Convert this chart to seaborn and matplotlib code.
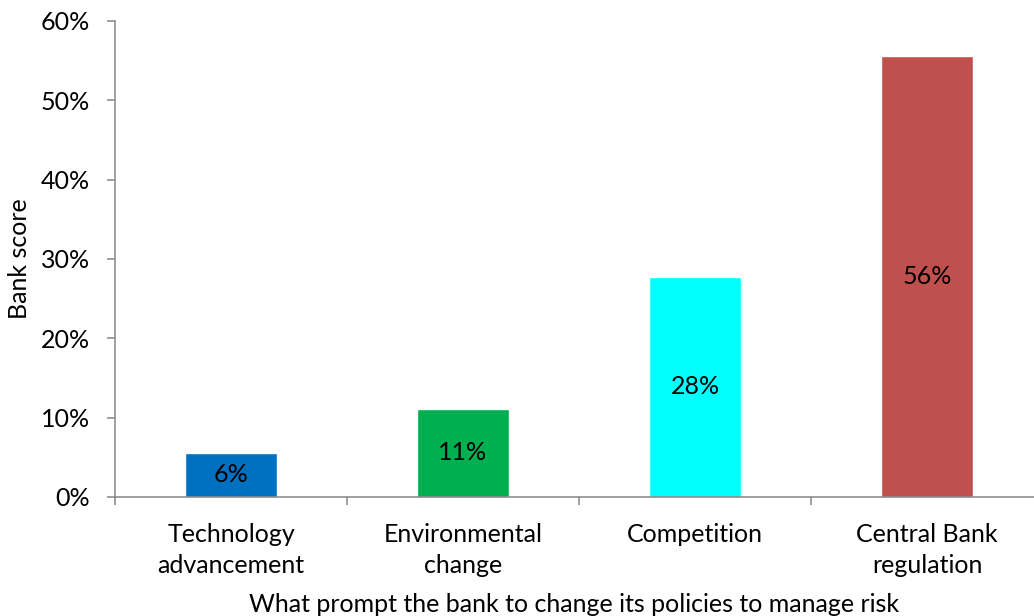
import matplotlib
matplotlib.use("Agg")
import matplotlib.pyplot as plt
from matplotlib.ticker import PercentFormatter, FixedLocator
import seaborn as sns
import pandas as pd

# Data
categories = ["Technology\nadvancement", "Environmental\nchange", "Competition", "Central Bank\nregulation"]
scores = [0.0556, 0.1111, 0.2778, 0.5556]
value_labels = ["6%", "11%", "28%", "56%"]
bar_colors = ["#0070C0", "#00B050", "#00FFFF", "#C0504D"]

sns.set_theme(style="white")
plt.rcParams["font.family"] = ["Lato", "DejaVu Sans"]

FS = 18
AXIS_GRAY = "#868686"

fig = plt.figure(figsize=(10.34, 6.16), dpi=100)
ax = fig.add_axes([115 / 1034, 119 / 616, 928 / 1034, 476 / 616])

df = pd.DataFrame({"category": categories, "score": scores})
sns.barplot(data=df, x="category", y="score", hue="category",
            palette=bar_colors, width=0.4, legend=False, ax=ax,
            saturation=1.0)

ax.set_xlim(-0.5, 3.5)
ax.set_ylim(0, 0.6)
ax.set_yticks([0, 0.1, 0.2, 0.3, 0.4, 0.5, 0.6])
ax.yaxis.set_major_formatter(PercentFormatter(xmax=1, decimals=0))

# Category labels at bar centres, tick marks at category boundaries
ax.set_xticks(range(len(categories)))
ax.set_xticklabels(categories, fontsize=FS, color="black", linespacing=1.4)
ax.tick_params(axis="x", which="major", length=0, pad=19)
ax.xaxis.set_minor_locator(FixedLocator([-0.5, 0.5, 1.5, 2.5, 3.5]))
ax.tick_params(axis="x", which="minor", bottom=True, length=6, width=1.1, color=AXIS_GRAY)
ax.tick_params(axis="y", left=True, length=6, width=1.1, color=AXIS_GRAY,
               labelsize=FS, labelcolor="black", pad=12)

for side in ["top", "right"]:
    ax.spines[side].set_visible(False)
for side in ["left", "bottom"]:
    ax.spines[side].set_color(AXIS_GRAY)
    ax.spines[side].set_linewidth(1.1)

# Value labels centred inside each bar
for i, (v, lab) in enumerate(zip(scores, value_labels)):
    ax.text(i, v / 2, lab, ha="center", va="center", fontsize=FS, color="black")

ax.set_ylabel("Bank score", fontsize=FS, color="black")
ax.yaxis.set_label_coords(-84 / 928, 0.5)
ax.set_xlabel("What prompt the bank to change its policies to manage risk",
              fontsize=FS, color="black")
ax.xaxis.set_label_coords((574 - 115) / 928, -96 / 476)

fig.savefig("out.png", dpi=100, facecolor="white")
